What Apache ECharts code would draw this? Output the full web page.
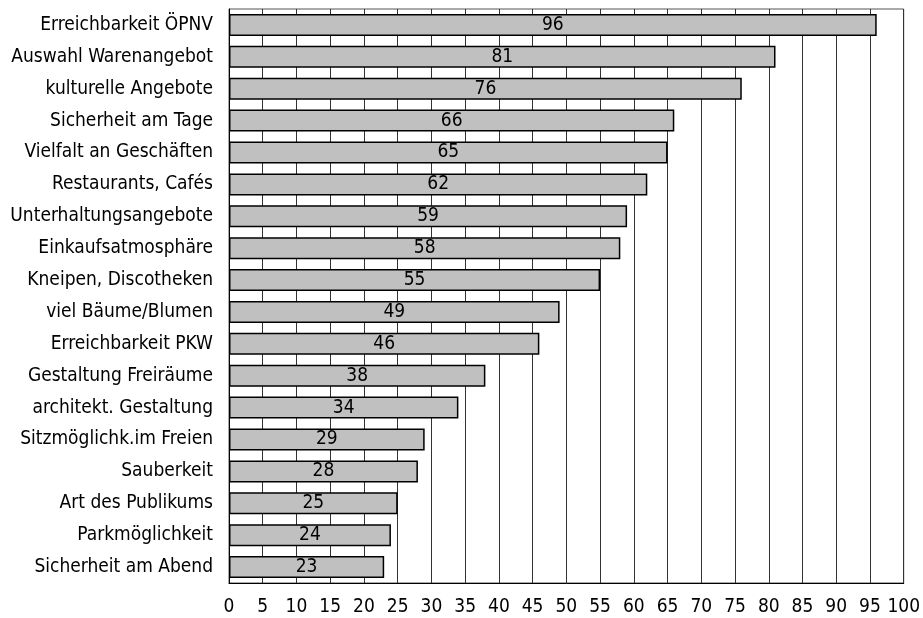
<!DOCTYPE html>
<html>
<head>
<meta charset="utf-8">
<script src="https://cdn.jsdelivr.net/npm/echarts@6/dist/echarts.min.js"></script>
<style>
html, body { margin: 0; padding: 0; background: #fff; }
#chart { width: 923px; height: 618px; }
</style>
</head>
<body>
<div id="chart"></div>
<script>
// Attributes listed top to bottom
const categories = [
  "Erreichbarkeit ÖPNV",
  "Auswahl Warenangebot",
  "kulturelle Angebote",
  "Sicherheit am Tage",
  "Vielfalt an Geschäften",
  "Restaurants, Cafés",
  "Unterhaltungsangebote",
  "Einkaufsatmosphäre",
  "Kneipen, Discotheken",
  "viel Bäume/Blumen",
  "Erreichbarkeit PKW",
  "Gestaltung Freiräume",
  "architekt. Gestaltung",
  "Sitzmöglichk.im Freien",
  "Sauberkeit",
  "Art des Publikums",
  "Parkmöglichkeit",
  "Sicherheit am Abend"
];
const values = [96, 81, 76, 66, 65, 62, 59, 58, 55, 49, 46, 38, 34, 29, 28, 25, 24, 23];
const xTicks = { min: 0, max: 100, step: 5 };

const FONT = "'DejaVu Sans Condensed', 'DejaVu Sans'";

const chart = echarts.init(document.getElementById("chart"), null, { renderer: "canvas" });
chart.setOption({
  animation: false,
  backgroundColor: "#ffffff",
  grid: {
    left: 229, right: 19, top: 9, bottom: 35,
    show: true, borderColor: "#555", borderWidth: 1
  },
  xAxis: {
    type: "value",
    min: xTicks.min, max: xTicks.max, interval: xTicks.step,
    axisLine: { show: true, lineStyle: { color: "#000", width: 1 } },
    axisTick: { show: false },
    axisLabel: { color: "#000", fontFamily: FONT, fontSize: 19, margin: 15 },
    splitLine: { show: true, lineStyle: { color: "#333", width: 1 } }
  },
  yAxis: {
    type: "category",
    inverse: true,
    data: categories,
    axisLine: { show: true, lineStyle: { color: "#000", width: 1 } },
    axisTick: { show: false },
    axisLabel: { color: "#000", fontFamily: FONT, fontSize: 19, margin: 16 },
    splitLine: { show: false }
  },
  series: [{
    type: "bar",
    data: values,
    barCategoryGap: "31%",
    itemStyle: { color: "#c0c0c0", borderColor: "#000", borderWidth: 1.5 },
    label: {
      show: true, position: "inside", color: "#000",
      fontFamily: FONT, fontSize: 19
    }
  }]
});
</script>
</body>
</html>
